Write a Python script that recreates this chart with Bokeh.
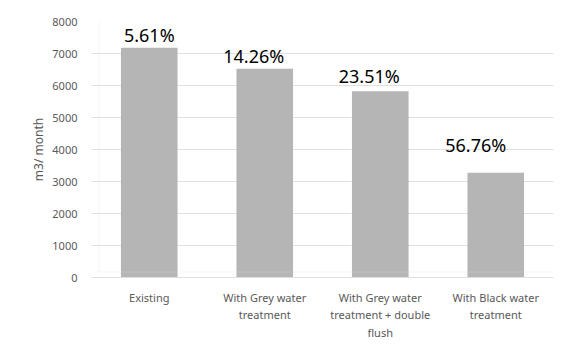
from bokeh.plotting import figure
from bokeh.models import FactorRange, Range1d, ColumnDataSource, PolyAnnotation, NumeralTickFormatter
from bokeh.core.properties import value
from bokeh.embed import file_html
from bokeh.resources import INLINE

# Monthly water demand per scenario and the saving relative to the baseline
categories = [
    "Existing",
    "With Grey water\ntreatment",
    "With Grey water\ntreatment + double\nflush",
    "With Black water\ntreatment",
]
demand = [7180, 6520, 5820, 3270]
savings = ["5.61%", "14.26%", "23.51%", "56.76%"]
y_ticks = [0, 1000, 2000, 3000, 4000, 5000, 6000, 7000, 8000]

# nudges for the percentage labels (pixels, negative y is upward)
label_dx = [0, -11, -11, -20]
label_dy = [-13, -13, -15, -28]

FONT = "Noto Sans"
GREY_TEXT = "#595959"
GRID = "#e0e0e0"

p = figure(
    width=564, height=348,
    x_range=FactorRange(*categories, range_padding=0),
    y_range=Range1d(0, 8000),
    output_backend="svg", toolbar_location=None,
    min_border_left=91, min_border_right=11,
    min_border_top=21, min_border_bottom=71,
)
p.outline_line_color = None
p.background_fill_color = "white"
p.border_fill_color = "white"

src = ColumnDataSource(dict(cat=categories, val=demand, lab=savings,
                            dx=label_dx, dy=label_dy))

p.vbar(x="cat", top="val", width=0.49, source=src,
       fill_color="#b5b5b5", line_color=None)

p.text(x="cat", y="val", text="lab", source=src,
       x_offset="dx", y_offset="dy",
       text_align="center", text_baseline="alphabetic",
       text_font=value(FONT), text_font_size="18px", text_color="black")

# grid
p.xgrid.grid_line_color = None
p.ygrid.grid_line_color = GRID
p.ygrid.grid_line_width = 1
p.yaxis.ticker = y_ticks

# y axis
p.yaxis.axis_line_color = None
p.yaxis.major_tick_line_color = None
p.yaxis.minor_tick_line_color = None
p.yaxis.major_tick_out = 0
p.yaxis.major_tick_in = 0
p.yaxis.major_label_text_font = FONT
p.yaxis.major_label_text_font_size = "11px"
p.yaxis.major_label_text_color = GREY_TEXT
p.yaxis.major_label_standoff = 14
p.yaxis.formatter = NumeralTickFormatter(format="0")
p.yaxis.axis_label = "m3/ month"
p.yaxis.axis_label_text_font = FONT
p.yaxis.axis_label_text_font_style = "normal"
p.yaxis.axis_label_text_font_size = "12px"
p.yaxis.axis_label_text_color = GREY_TEXT
p.yaxis.axis_label_standoff = 2

# x axis
p.xaxis.axis_line_color = GRID
p.xaxis.major_tick_line_color = None
p.xaxis.minor_tick_line_color = None
p.xaxis.major_tick_out = 0
p.xaxis.major_tick_in = 0
p.xaxis.major_label_text_font = FONT
p.xaxis.major_label_text_font_size = "11px"
p.xaxis.major_label_text_color = GREY_TEXT
p.xaxis.major_label_standoff = 12
p.xaxis.major_label_text_line_height = 1.17

# chart border (left and top edges fall inside the canvas)
p.add_layout(PolyAnnotation(
    xs=[7.5, 700, 700, 7.5], ys=[5.5, 5.5, 500, 500],
    xs_units="screen", ys_units="screen",
    fill_alpha=0, line_color="#d9d9d9", line_width=1,
))

open("out.html", "w").write(file_html(p, INLINE))
